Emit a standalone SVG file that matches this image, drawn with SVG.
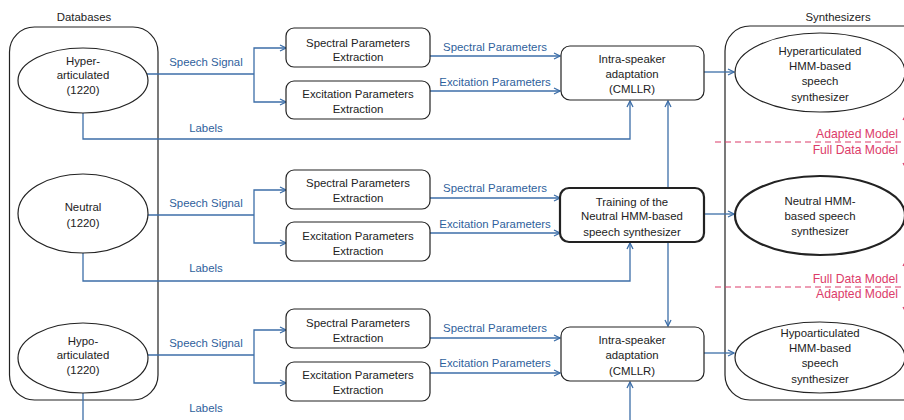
<svg xmlns="http://www.w3.org/2000/svg" width="904" height="420" viewBox="0 0 904 420">
<defs>
<marker id="ah" markerWidth="8" markerHeight="8" refX="7" refY="4" orient="auto" markerUnits="userSpaceOnUse">
<path d="M1,1 L7,4 L1,7" fill="none" stroke="#3c6ea8" stroke-width="1.3"/>
</marker>
<marker id="rh" markerWidth="10" markerHeight="10" refX="8" refY="5" orient="auto" markerUnits="userSpaceOnUse">
<path d="M1,1 L8,5 L1,9" fill="none" stroke="#dc3c6a" stroke-width="1.2"/>
</marker>
<style>
text{font-family:"Liberation Sans",Arial,sans-serif;font-size:11.4px;fill:#222;text-anchor:middle}
.bl{fill:#2f5f9c}
.rd{fill:#dc3c6a;font-size:12.2px;text-anchor:end}
.box{fill:#fff;stroke:#222;stroke-width:1.2}
.thick{stroke-width:2.2}
.grp{fill:none;stroke:#222;stroke-width:1.2}
.c{fill:none;stroke:#3c6ea8;stroke-width:1.3}
.a{marker-end:url(#ah)}
.dash{stroke:#dc3c6a;stroke-width:1.1;stroke-dasharray:6 4;fill:none}
.ra{stroke:#dc3c6a;stroke-width:1.2;fill:none;marker-end:url(#rh)}
</style>
</defs>
<rect width="904" height="420" fill="#fff"/>

<g id="databases">
<rect class="grp" x="9.5" y="27" width="148.5" height="373" rx="25"/>
<text x="84" y="21">Databases</text>
</g>
<g id="synthesizers">
<rect class="grp" x="725" y="26" width="220" height="374" rx="25"/>
<text x="838" y="21">Synthesizers</text>
</g>

<g id="connectors">
<!-- top row -->
<path class="c" d="M147,74 H254"/>
<path class="c a" d="M254,74 V48 H286"/>
<path class="c a" d="M254,74 V102 H286"/>
<path class="c a" d="M430,56 H560"/>
<path class="c a" d="M430,91 H560"/>
<path class="c a" d="M83,113 V139 H630 V101"/>
<path class="c a" d="M704,72 H734"/>
<!-- middle row -->
<path class="c" d="M148,215 H254"/>
<path class="c a" d="M254,215 V190 H286"/>
<path class="c a" d="M254,215 V243 H286"/>
<path class="c a" d="M430,198 H560"/>
<path class="c a" d="M430,233 H560"/>
<path class="c a" d="M83,253 V281 H630 V243"/>
<path class="c a" d="M704,214 H734"/>
<path class="c a" d="M668,188 V101"/>
<path class="c a" d="M668,242 V326"/>
<!-- bottom row -->
<path class="c" d="M147,355 H254"/>
<path class="c a" d="M254,355 V330 H286"/>
<path class="c a" d="M254,355 V383 H286"/>
<path class="c a" d="M430,338 H560"/>
<path class="c a" d="M430,373 H560"/>
<path class="c" d="M83,393 V425"/>
<path class="c a" d="M630,425 V382"/>
<path class="c a" d="M704,353 H734"/>
<!-- labels -->
<text class="bl" x="206" y="66">Speech Signal</text>
<text class="bl" x="206" y="132">Labels</text>
<text class="bl" x="495" y="51">Spectral Parameters</text>
<text class="bl" x="495" y="86">Excitation Parameters</text>
<text class="bl" x="206" y="207">Speech Signal</text>
<text class="bl" x="206" y="272">Labels</text>
<text class="bl" x="495" y="192">Spectral Parameters</text>
<text class="bl" x="495" y="228">Excitation Parameters</text>
<text class="bl" x="206" y="347">Speech Signal</text>
<text class="bl" x="206" y="412">Labels</text>
<text class="bl" x="495" y="332">Spectral Parameters</text>
<text class="bl" x="495" y="367">Excitation Parameters</text>
<!-- model separators -->
<path class="dash" d="M715,142 H904"/>
<path class="dash" d="M715,287 H904"/>
<path class="ra" d="M907,128 V113"/>
<path class="ra" d="M907,156 V170"/>
<path class="ra" d="M907,273 V259"/>
<path class="ra" d="M907,300 V314"/>
<text class="rd" x="898" y="138">Adapted Model</text>
<text class="rd" x="898" y="154">Full Data Model</text>
<text class="rd" x="898" y="283">Full Data Model</text>
<text class="rd" x="898" y="298">Adapted Model</text>
</g>

<g id="hyper-db">
<ellipse class="box" cx="83" cy="80.5" rx="65" ry="32.5"/>
<text x="83" y="65">Hyper-</text>
<text x="83" y="79">articulated</text>
<text x="83" y="94">(1220)</text>
</g>
<g id="neutral-db">
<ellipse class="box" cx="83" cy="213.5" rx="65" ry="39.5"/>
<text x="83" y="211">Neutral</text>
<text x="83" y="227">(1220)</text>
</g>
<g id="hypo-db">
<ellipse class="box" cx="83" cy="358" rx="65" ry="35"/>
<text x="83" y="345">Hypo-</text>
<text x="83" y="359">articulated</text>
<text x="83" y="374">(1220)</text>
</g>

<g id="spec-top">
<rect class="box" x="286" y="28" width="144" height="39" rx="8"/>
<text x="358" y="47">Spectral Parameters</text>
<text x="358" y="61">Extraction</text>
</g>
<g id="exc-top">
<rect class="box" x="286" y="81" width="144" height="38" rx="8"/>
<text x="358" y="98">Excitation Parameters</text>
<text x="358" y="113">Extraction</text>
</g>
<g id="spec-mid">
<rect class="box" x="286" y="170" width="144" height="39" rx="8"/>
<text x="358" y="187">Spectral Parameters</text>
<text x="358" y="202">Extraction</text>
</g>
<g id="exc-mid">
<rect class="box" x="286" y="222" width="144" height="39" rx="8"/>
<text x="358" y="240">Excitation Parameters</text>
<text x="358" y="255">Extraction</text>
</g>
<g id="spec-bot">
<rect class="box" x="286" y="309" width="144" height="39" rx="8"/>
<text x="358" y="327">Spectral Parameters</text>
<text x="358" y="342">Extraction</text>
</g>
<g id="exc-bot">
<rect class="box" x="286" y="362" width="144" height="39" rx="8"/>
<text x="358" y="379">Excitation Parameters</text>
<text x="358" y="394">Extraction</text>
</g>

<g id="adapt-top">
<rect class="box" x="561" y="46" width="143" height="54" rx="9"/>
<text x="632" y="63">Intra-speaker</text>
<text x="632" y="78">adaptation</text>
<text x="632" y="93">(CMLLR)</text>
</g>
<g id="training">
<rect class="box thick" x="560" y="188" width="144" height="54" rx="9"/>
<text x="632" y="206">Training of the</text>
<text x="632" y="220">Neutral HMM-based</text>
<text x="632" y="236">speech synthesizer</text>
</g>
<g id="adapt-bot">
<rect class="box" x="561" y="327" width="143" height="54" rx="9"/>
<text x="632" y="344">Intra-speaker</text>
<text x="632" y="359">adaptation</text>
<text x="632" y="375">(CMLLR)</text>
</g>

<g id="hyper-synth">
<ellipse class="box" cx="820" cy="72.5" rx="85" ry="39.5"/>
<text x="820" y="55">Hyperarticulated</text>
<text x="820" y="70">HMM-based</text>
<text x="820" y="85">speech</text>
<text x="820" y="101">synthesizer</text>
</g>
<g id="neutral-synth">
<ellipse class="box thick" cx="820" cy="215.5" rx="85" ry="39.5"/>
<text x="820" y="205">Neutral HMM-</text>
<text x="820" y="220">based speech</text>
<text x="820" y="235">synthesizer</text>
</g>
<g id="hypo-synth">
<ellipse class="box" cx="820" cy="357.5" rx="85" ry="35.5"/>
<text x="820" y="337">Hypoarticulated</text>
<text x="820" y="352">HMM-based</text>
<text x="820" y="367">speech</text>
<text x="820" y="383">synthesizer</text>
</g>
</svg>
